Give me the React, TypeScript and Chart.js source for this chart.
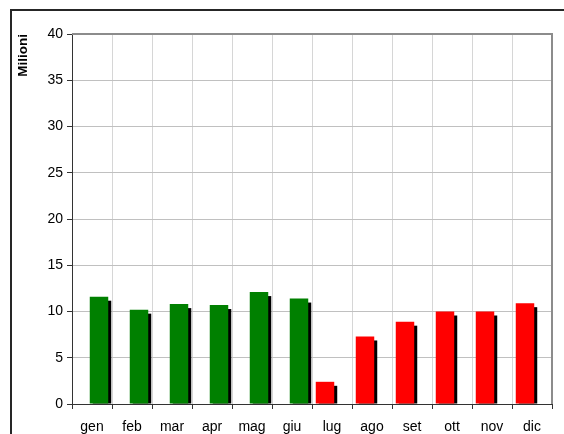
import React, { useEffect, useRef } from "react";
import { Chart, registerables } from "chart.js";

Chart.register(...registerables);

const months = ["gen", "feb", "mar", "apr", "mag", "giu", "lug", "ago", "set", "ott", "nov", "dic"];
const redValues: (number | null)[] = [null, null, null, null, null, null, 2.4, 7.3, 8.9, 10.0, 10.0, 10.9];
const greenValues: (number | null)[] = [11.6, 10.2, 10.8, 10.7, 12.1, 11.4, null, null, null, null, null, null];
const yMin = 0;
const yMax = 40;
const yStep = 5;
const yTitle = "Milioni";

const FONT = "'Liberation Sans', Arial, sans-serif";

const shadowPlugin = {
  id: "barShadow",
  beforeDatasetsDraw(chart: any) {
    const { ctx, chartArea } = chart;
    ctx.save();
    ctx.beginPath();
    ctx.rect(chartArea.left, chartArea.top, chartArea.right - chartArea.left, chartArea.bottom - chartArea.top);
    ctx.clip();
    ctx.fillStyle = "#000";
    chart.data.datasets.forEach((ds: any, i: number) => {
      const meta = chart.getDatasetMeta(i);
      meta.data.forEach((el: any, j: number) => {
        if (ds.data[j] == null) return;
        const { x, y, base, width } = el.getProps(["x", "y", "base", "width"], true);
        ctx.fillRect(x - width / 2 + 3, y + 4, width, base - y - 4);
      });
    });
    ctx.restore();
  },
};

const framePlugin = {
  id: "frames",
  afterDraw(chart: any) {
    const { ctx, chartArea } = chart;
    ctx.save();
    // plot area top & right border
    ctx.fillStyle = "#8c8c8c";
    ctx.fillRect(chartArea.left, chartArea.top - 1, chartArea.right - chartArea.left + 1, 2);
    ctx.fillRect(chartArea.right - 1, chartArea.top - 1, 2, chartArea.bottom - chartArea.top + 1);
    // outer frame
    ctx.fillStyle = "#262626";
    ctx.fillRect(10, 9, chart.width - 10, 2);
    ctx.fillRect(10, 9, 2, chart.height - 9);
    ctx.restore();
  },
};

export default function App() {
  const ref = useRef<HTMLCanvasElement | null>(null);
  useEffect(() => {
    if (!ref.current) return;
    const chart = new Chart(ref.current, {
      type: "bar",
      data: {
        labels: months,
        datasets: [
          {
            data: redValues,
            backgroundColor: "#ff0000",
            categoryPercentage: 0.7,
            barPercentage: 1.32,
          },
          {
            data: greenValues,
            backgroundColor: "#008000",
            categoryPercentage: 0.7,
            barPercentage: 1.32,
          },
        ],
      },
      options: {
        responsive: false,
        animation: false,
        devicePixelRatio: 1,
        layout: { padding: { left: 0, top: 34, right: 12, bottom: 0 } },
        plugins: {
          legend: { display: false },
          tooltip: { enabled: false },
        },
        scales: {
          x: {
            offset: true,
            grid: {
              offset: true,
              color: "#d6d6d6",
              tickColor: "#333",
              tickLength: 5,
            },
            border: { color: "#333", width: 1 },
            ticks: {
              color: "#000",
              font: { family: FONT, size: 14 },
              padding: 10,
              maxRotation: 0,
            },
            afterFit: (s: any) => {
              s.height = 30;
            },
          },
          y: {
            min: yMin,
            max: yMax,
            ticks: {
              stepSize: yStep,
              color: "#000",
              font: { family: FONT, size: 14 },
              padding: 4,
            },
            grid: {
              color: "#c0c0c0",
              tickColor: "#333",
              tickLength: 5,
            },
            border: { color: "#333", width: 1 },
            title: {
              display: true,
              text: yTitle,
              align: "end",
              color: "#000",
              font: { family: FONT, size: 13.5, weight: "bold" },
              padding: { top: 15, bottom: 0 },
            },
            afterFit: (s: any) => {
              s.width = 72;
            },
          },
        },
      },
      plugins: [shadowPlugin, framePlugin],
    });
    return () => chart.destroy();
  }, []);
  return (
    <canvas
      ref={ref}
      width={564}
      height={434}
      style={{ position: "fixed", left: 0, top: 0, width: 564, height: 434, background: "#fff" }}
    />
  );
}
